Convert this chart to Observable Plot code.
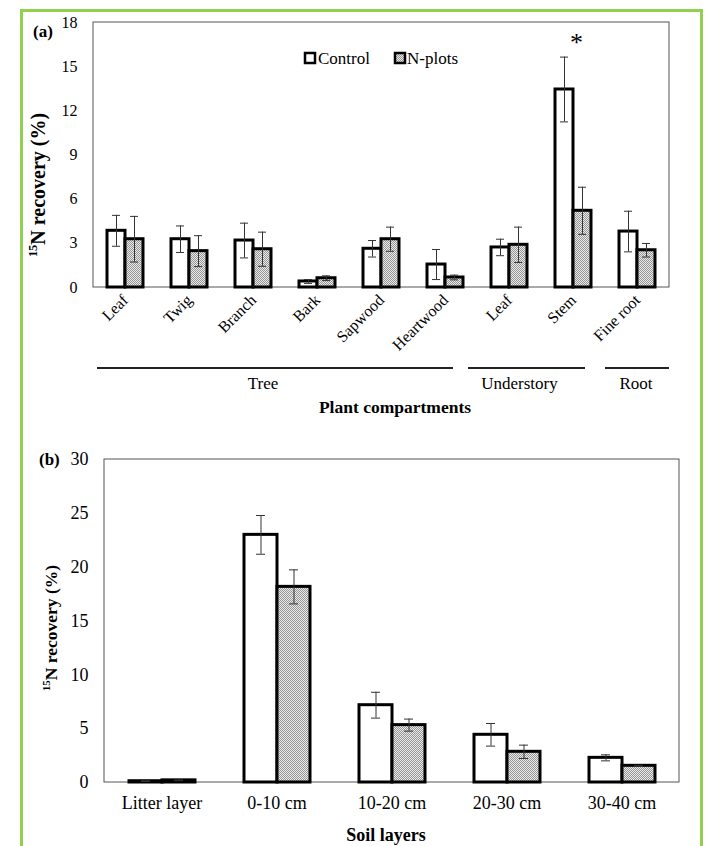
<!DOCTYPE html>
<html><head><meta charset="utf-8">
<script src="https://cdn.jsdelivr.net/npm/d3@7"></script>
<script src="https://cdn.jsdelivr.net/npm/@observablehq/plot@0.6"></script>
<style>
body{margin:0;background:#fff;}
#wrap{position:relative;width:713px;height:846px;overflow:hidden;background:#fff;}
#border{position:absolute;left:20px;top:9px;width:677px;height:900px;border:3px solid #92d050;border-bottom:none;}
#pa{position:absolute;left:0;top:0;}
#pb{position:absolute;left:0;top:430px;}
</style></head><body>
<div id="wrap"><div id="border"></div><div id="pa"></div><div id="pb"></div></div>
<script>
// ---------- data: panel (a) ----------
const treatments = ["Control", "N-plots"];
const compartments = ["Leaf", "Twig", "Branch", "Bark", "Sapwood", "Heartwood", "Leaf", "Stem", "Fine root"];
const controlA    = [3.85, 3.28, 3.19, 0.41, 2.63, 1.56, 2.72, 13.45, 3.80];
const controlErrA = [1.05, 0.90, 1.18, 0.13, 0.56, 1.02, 0.56, 2.20, 1.38];
const nplotsA     = [3.28, 2.47, 2.60, 0.63, 3.28, 0.68, 2.90, 5.21, 2.53];
const nplotsErrA  = [1.55, 1.05, 1.16, 0.16, 0.82, 0.16, 1.20, 1.60, 0.46];
const significantA = [7]; // Stem (*)
const groupNames = ["Tree", "Understory", "Root"];
const groupFirst = [0, 6, 8];
const groupLast  = [5, 7, 8];
const ticksA = [0, 3, 6, 9, 12, 15, 18];

// ---------- data: panel (b) ----------
const layers = ["Litter layer", "0-10 cm", "10-20 cm", "20-30 cm", "30-40 cm"];
const controlB    = [0.12, 23.0, 7.18, 4.43, 2.29];
const controlErrB = [0.03, 1.80, 1.20, 1.05, 0.28];
const nplotsB     = [0.20, 18.17, 5.33, 2.85, 1.55];
const nplotsErrB  = [0.03, 1.58, 0.56, 0.62, 0.05];
const ticksB = [0, 5, 10, 15, 20, 25, 30];

function rows(n, c, ce, p, pe) {
  return d3.range(n).flatMap(i => [
    {i, trt: "Control", v: c[i], e: ce[i]},
    {i, trt: "N-plots", v: p[i], e: pe[i]}
  ]);
}
const rowsA = rows(compartments.length, controlA, controlErrA, nplotsA, nplotsErrA);
const rowsB = rows(layers.length, controlB, controlErrB, nplotsB, nplotsErrB);

const FONT = "Liberation Serif";
const patternDef = id => `<pattern id="${id}" width="2" height="2" patternUnits="userSpaceOnUse">
  <rect width="2" height="2" fill="#ebebeb"/><rect width="1" height="1" fill="#959595"/><rect x="1" y="1" width="1" height="1" fill="#959595"/></pattern>`;

function barMarks(data, patId, capInset) {
  return [
    Plot.barY(data.filter(d => d.trt === "Control"), {fx: "i", x: "trt", y: "v", fill: "white", stroke: "black", strokeWidth: 3}),
    Plot.barY(data.filter(d => d.trt === "N-plots"), {fx: "i", x: "trt", y: "v", fill: `url(#${patId})`, stroke: "black", strokeWidth: 3}),
    Plot.ruleX(data, {fx: "i", x: "trt", y1: d => Math.max(0, d.v - d.e), y2: d => d.v + d.e, stroke: "#333", strokeWidth: 1}),
    Plot.tickY(data, {fx: "i", x: "trt", y: d => d.v + d.e, stroke: "#333", strokeWidth: 1, insetLeft: capInset, insetRight: capInset}),
    Plot.tickY(data, {fx: "i", x: "trt", y: d => Math.max(0, d.v - d.e), stroke: "#333", strokeWidth: 1, insetLeft: capInset, insetRight: capInset})
  ];
}

function addText(svg, x, y, str, size, opts = {}) {
  return svg.append("text").attr("x", x).attr("y", y)
    .attr("text-anchor", opts.anchor || "start")
    .attr("font-family", FONT)
    .attr("font-size", size).attr("font-weight", opts.bold ? "bold" : "normal")
    .attr("fill", "black").text(str);
}

function yTitle(svg, x, y, size) {
  const t = svg.append("text")
    .attr("transform", `translate(${x},${y}) rotate(-90)`)
    .attr("text-anchor", "middle").attr("font-weight", "bold")
    .attr("font-family", FONT)
    .attr("font-size", size).attr("fill", "black");
  t.append("tspan").attr("font-size", size * 0.62).attr("dy", -size * 0.38).text("15");
  t.append("tspan").attr("dy", size * 0.38).text("N recovery (%)");
}

function drawFrame(plot, svg, first, last, yMax) {
  const fx = plot.scale("fx"), y = plot.scale("y");
  const x0 = fx.apply(first), x1 = fx.apply(last) + fx.bandwidth;
  const y0 = y.apply(0), y1 = y.apply(yMax);
  svg.insert("rect", "g")
    .attr("x", x0).attr("y", y1).attr("width", x1 - x0).attr("height", y0 - y1)
    .attr("fill", "none").attr("stroke", "#555").attr("stroke-width", 1);
}

function applyFont(svg) {
  svg.attr("font-family", FONT);
  svg.selectAll("g").attr("font-family", FONT);
  svg.selectAll("text").attr("font-family", FONT);
}

// ---------- panel (a) ----------
const plotA = Plot.plot({
  width: 713, height: 430,
  marginLeft: 91, marginRight: 42, marginTop: 22, marginBottom: 143,
  style: {fontSize: "16px", color: "black", background: "transparent", overflow: "visible"},
  fx: {domain: d3.range(compartments.length), padding: 0, axis: "bottom", label: null,
       tickRotate: -45, tickSize: 0, tickPadding: 10, tickFormat: i => compartments[i]},
  x: {domain: treatments, paddingInner: 0, paddingOuter: 0.7, axis: null},
  y: {domain: [0, 18], ticks: ticksA, tickSize: 0, tickPadding: 16, label: null},
  marks: [
    ...barMarks(rowsA, "dotsA", 5),
    Plot.text(significantA.map(i => ({i, top: controlA[i] + controlErrA[i]})),
      {fx: "i", y: "top", text: () => "*", dy: -14, dx: 3, fontSize: 26, fill: "black", fontFamily: FONT})
  ]
});
document.getElementById("pa").appendChild(plotA);
const svgA = d3.select(plotA);
svgA.insert("defs", ":first-child").html(patternDef("dotsA"));
drawFrame(plotA, svgA, 0, compartments.length - 1, 18);
{
  const fx = plotA.scale("fx");
  const insetStart = [4, -9, 0], insetEnd = [24, 20, 0], labelShift = [-12, -7, -1];
  groupNames.forEach((g, k) => {
    const a = fx.apply(groupFirst[k]) + insetStart[k];
    const b = fx.apply(groupLast[k]) + fx.bandwidth - insetEnd[k];
    svgA.append("line").attr("x1", a).attr("x2", b).attr("y1", 368).attr("y2", 368)
      .attr("stroke", "#222").attr("stroke-width", 2);
    addText(svgA, (a + b) / 2 + labelShift[k], 389, g, 17, {anchor: "middle"});
  });
  addText(svgA, 395, 413, "Plant compartments", 17.5, {anchor: "middle", bold: true});
  addText(svgA, 33, 37, "(a)", 17, {bold: true});
  yTitle(svgA, 45, 185, 20);
  // legend
  svgA.append("rect").attr("x", 305).attr("y", 53).attr("width", 10).attr("height", 10)
    .attr("fill", "white").attr("stroke", "black").attr("stroke-width", 2.5);
  addText(svgA, 318, 64, treatments[0], 17);
  svgA.append("rect").attr("x", 395).attr("y", 53).attr("width", 10).attr("height", 10)
    .attr("fill", "url(#dotsA)").attr("stroke", "black").attr("stroke-width", 2.5);
  addText(svgA, 407, 64, treatments[1], 17);
}
applyFont(svgA);

// ---------- panel (b) ----------
const plotB = Plot.plot({
  width: 713, height: 416,
  marginLeft: 103, marginRight: 34, marginTop: 29, marginBottom: 64,
  style: {fontSize: "18px", color: "black", background: "transparent", overflow: "visible"},
  fx: {domain: d3.range(layers.length), padding: 0, axis: "bottom", label: null,
       tickSize: 0, tickPadding: 14, tickFormat: i => layers[i]},
  x: {domain: treatments, paddingInner: 0, paddingOuter: 0.72, axis: null},
  y: {domain: [0, 30], ticks: ticksB, tickSize: 0, tickPadding: 16, label: null},
  marks: barMarks(rowsB, "dotsB", 12)
});
document.getElementById("pb").appendChild(plotB);
const svgB = d3.select(plotB);
svgB.insert("defs", ":first-child").html(patternDef("dotsB"));
drawFrame(plotB, svgB, 0, layers.length - 1, 30);
addText(svgB, 386, 411, "Soil layers", 18, {anchor: "middle", bold: true});
addText(svgB, 39, 35, "(b)", 17, {bold: true});
yTitle(svgB, 57, 198, 17.5);
applyFont(svgB);
</script>
</body></html>
